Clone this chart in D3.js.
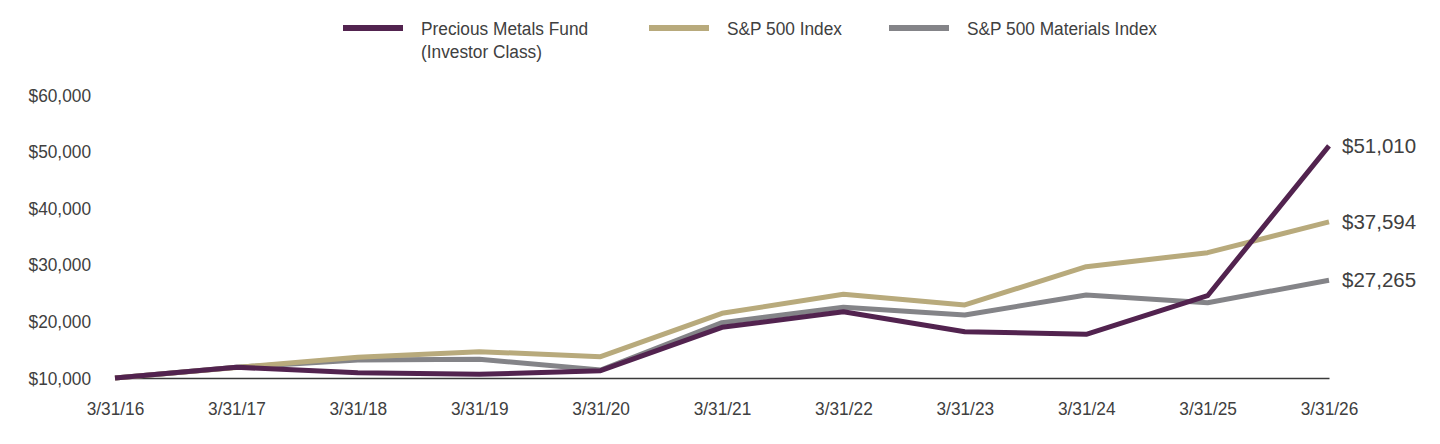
<!DOCTYPE html>
<html>
<head>
<meta charset="utf-8">
<script src="https://cdn.jsdelivr.net/npm/d3@7"></script>
<style>
  body { margin: 0; background: #fff; }
  svg text { font-family: "Liberation Sans", Arial, sans-serif; fill: #404040; }
</style>
</head>
<body>
<div id="chart"></div>
<script>
// data
var dates = ["3/31/16", "3/31/17", "3/31/18", "3/31/19", "3/31/20", "3/31/21", "3/31/22", "3/31/23", "3/31/24", "3/31/25", "3/31/26"];
var fundValues = [10000, 11900, 10940, 10650, 11290, 18960, 21710, 18180, 17720, 24540, 51010];
var sp500Values = [10000, 11850, 13660, 14650, 13770, 21430, 24790, 22900, 29670, 32140, 37594];
var materialsValues = [10000, 11900, 13180, 13300, 11410, 19770, 22490, 21130, 24660, 23300, 27265];
var seriesNames = ["Precious Metals Fund|(Investor Class)", "S&P 500 Index", "S&P 500 Materials Index"];
var seriesColors = ["#52234f", "#b8aa7c", "#848488"];
var yTicks = [10000, 20000, 30000, 40000, 50000, 60000];

var width = 1440, height = 444;
var margin = { left: 115, right: 111, top: 95, bottom: 66 };
var narrow = "scale(0.91,1)"; // fake a condensed face

var svg = d3.select("#chart").append("svg")
  .attr("width", width)
  .attr("height", height);

var x = d3.scalePoint()
  .domain(dates)
  .range([margin.left, width - margin.right]);

var y = d3.scaleLinear()
  .domain([10000, 60000])
  .range([height - margin.bottom, margin.top]);

var fmt = function(v) { return "$" + d3.format(",")(v); };

// y axis labels (no line)
var yAxis = svg.append("g")
  .attr("transform", "translate(" + (margin.left - 24) + ",0)")
  .call(d3.axisLeft(y).tickValues(yTicks).tickFormat(fmt).tickSize(0));
yAxis.select(".domain").remove();
yAxis.selectAll("text")
  .attr("font-size", 19).attr("font-family", null).attr("x", 0)
  .attr("transform", narrow);

// x axis baseline + labels
var xAxis = svg.append("g")
  .attr("transform", "translate(0," + y(10000) + ")")
  .call(d3.axisBottom(x).tickSize(0).tickPadding(24));
xAxis.select(".domain").attr("stroke", "#3a3a3a").attr("stroke-width", 1.5);
xAxis.selectAll("text")
  .attr("font-size", 19).attr("font-family", null)
  .attr("transform", narrow);

// lines, drawn back to front
var allSeries = [materialsValues, sp500Values, fundValues];
var allColors = [seriesColors[2], seriesColors[1], seriesColors[0]];

var line = d3.line()
  .x(function(d, i) { return x(dates[i]); })
  .y(function(d) { return y(d); });

svg.selectAll(".series")
  .data(allSeries)
  .enter().append("path")
    .attr("class", "series")
    .attr("fill", "none")
    .attr("stroke", function(d, i) { return allColors[i]; })
    .attr("stroke-width", 5)
    .attr("stroke-linejoin", "round")
    .attr("d", line);

// end labels
svg.selectAll(".end-label")
  .data([fundValues, sp500Values, materialsValues])
  .enter().append("text")
    .attr("class", "end-label")
    .attr("x", x(dates[dates.length - 1]) + 13)
    .attr("y", function(d) { return y(d[d.length - 1]); })
    .attr("dy", "0.35em")
    .attr("font-size", 20.5)
    .text(function(d) { return fmt(d[d.length - 1]); });

// legend
var legendX = [343, 649, 889];
var legend = svg.selectAll(".legend")
  .data(seriesNames)
  .enter().append("g")
    .attr("class", "legend")
    .attr("transform", function(d, i) { return "translate(" + legendX[i] + ",28)"; });

legend.append("line")
  .attr("x1", 0).attr("x2", 60)
  .attr("stroke", function(d, i) { return seriesColors[i]; })
  .attr("stroke-width", 6);

legend.append("g")
  .attr("transform", "translate(78,0) " + narrow)
  .append("text")
  .attr("y", 7)
  .attr("font-size", 19)
  .selectAll("tspan")
  .data(function(d) { return d.split("|"); })
  .enter().append("tspan")
    .attr("x", 0)
    .attr("dy", function(d, i) { return i ? 23 : 0; })
    .text(function(d) { return d; });
</script>
</body>
</html>
